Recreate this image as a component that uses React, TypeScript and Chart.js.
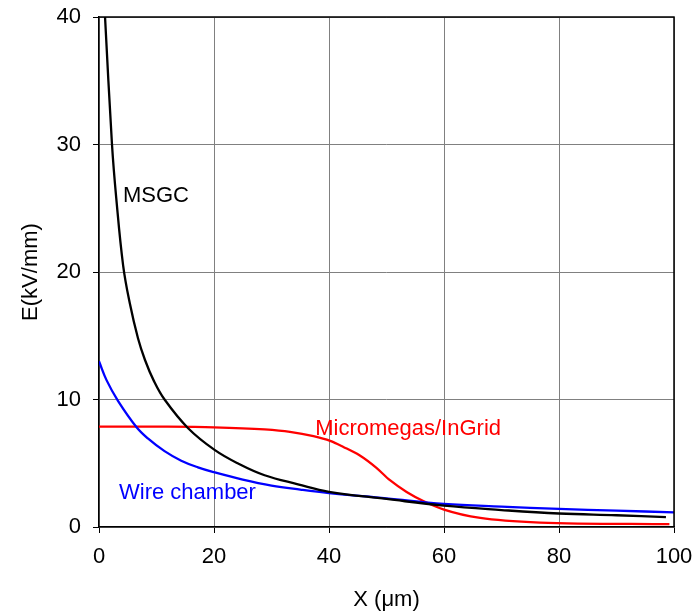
import React, { useEffect, useRef } from "react";
import { Chart, registerables } from "chart.js";

Chart.register(...registerables);

const msgcX = [1.05, 2.26, 3.0, 4.2, 5.33, 6.78, 8.0, 9.5, 11.4, 15.5, 20.1, 24.2, 28.8, 34.6, 40, 50, 60, 70, 80, 90, 98.6];
const msgcE = [40, 30, 25.8, 20.5, 17.6, 14.8, 13.1, 11.5, 10, 7.75, 6.05, 4.98, 4.06, 3.35, 2.76, 2.2, 1.67, 1.33, 1.06, 0.92, 0.78];

const wireX = [0, 1.33, 3.3, 6.5, 8.5, 11.4, 14.3, 17.2, 20, 25, 30, 35, 40, 50, 60, 70, 80, 90, 100];
const wireE = [13.0, 11.5, 9.9, 7.85, 6.95, 5.95, 5.2, 4.68, 4.3, 3.72, 3.25, 2.93, 2.66, 2.25, 1.82, 1.6, 1.42, 1.28, 1.15];

const mmX = [0, 10, 20, 28.8, 33.2, 37.3, 40.2, 42.5, 45.3, 48.2, 50.6, 53.5, 56.4, 60, 66.3, 76.7, 99.2];
const mmE = [7.88, 7.87, 7.82, 7.65, 7.46, 7.12, 6.75, 6.28, 5.63, 4.66, 3.67, 2.75, 2.04, 1.37, 0.71, 0.35, 0.22];

const xTicks = [0, 20, 40, 60, 80, 100];
const yTicks = [0, 10, 20, 30, 40];

const labelTexts = ["MSGC", "Micromegas/InGrid", "Wire chamber"];
const labelColors = ["#000000", "#ff0000", "#0000ff"];
const labelAnchorX = [4.17, 37.6, 3.48];
const labelAnchorE = [25.5, 7.25, 2.23];

const FONT = '"Liberation Sans", Arial, sans-serif';

function toPoints(xs: number[], ys: number[]) {
  return xs.map((x, i) => ({ x, y: ys[i] }));
}

const labelPlugin = {
  id: "curveLabels",
  afterDatasetsDraw(chart: any) {
    const { ctx, scales, chartArea } = chart;
    ctx.save();
    ctx.strokeStyle = "#000";
    ctx.lineWidth = 1.5;
    ctx.beginPath();
    ctx.moveTo(chartArea.left, chartArea.top);
    ctx.lineTo(chartArea.right, chartArea.top);
    ctx.lineTo(chartArea.right, chartArea.bottom);
    ctx.stroke();
    ctx.font = `22px ${FONT}`;
    ctx.textAlign = "left";
    ctx.textBaseline = "alphabetic";
    labelTexts.forEach((t, i) => {
      ctx.fillStyle = labelColors[i];
      ctx.fillText(t, scales.x.getPixelForValue(labelAnchorX[i]), scales.y.getPixelForValue(labelAnchorE[i]));
    });
    ctx.restore();
  },
};

export default function App() {
  const ref = useRef<HTMLCanvasElement>(null);
  useEffect(() => {
    document.body.style.margin = "0";
    const chart = new Chart(ref.current as HTMLCanvasElement, {
      type: "line",
      data: {
        datasets: [
          {
            label: "MSGC",
            data: toPoints(msgcX, msgcE),
            borderColor: "#000000",
            borderWidth: 2.3,
            pointRadius: 0,
            tension: 0.4,
          },
          {
            label: "Wire chamber",
            data: toPoints(wireX, wireE),
            borderColor: "#0000ff",
            borderWidth: 2.3,
            pointRadius: 0,
            tension: 0.4,
          },
          {
            label: "Micromegas/InGrid",
            data: toPoints(mmX, mmE),
            borderColor: "#ff0000",
            borderWidth: 2.3,
            pointRadius: 0,
            cubicInterpolationMode: "monotone",
          },
        ],
      },
      options: {
        animation: false,
        responsive: false,
        layout: { padding: { left: 0, right: 23, top: 17, bottom: 0 } },
        plugins: { legend: { display: false }, tooltip: { enabled: false } },
        scales: {
          x: {
            type: "linear",
            min: 0,
            max: 100,
            afterFit: (s: any) => { s.height = 86; s.paddingLeft = 0; s.paddingRight = 0; },
            afterBuildTicks: (s: any) => { s.ticks = xTicks.map((v) => ({ value: v })); },
            grid: { color: "#808080", lineWidth: 1, tickColor: "#000", tickLength: 6 },
            border: { color: "#000", width: 1.5 },
            ticks: { color: "#000", font: { family: FONT, size: 22 }, padding: 11, maxRotation: 0 },
            title: { display: true, text: "X (\u03bcm)", color: "#000", font: { family: FONT, size: 22 }, padding: { top: 0, bottom: 0 } },
          },
          y: {
            type: "linear",
            min: 0,
            max: 40,
            afterFit: (s: any) => { s.width = 99; s.paddingTop = 0; s.paddingBottom = 0; },
            afterBuildTicks: (s: any) => { s.ticks = yTicks.map((v) => ({ value: v })); },
            grid: { color: "#808080", lineWidth: 1, tickColor: "#000", tickLength: 6 },
            border: { color: "#000", width: 1.5 },
            ticks: { color: "#000", font: { family: FONT, size: 22 }, padding: 12 },
            title: { display: true, text: "E(kV/mm)", color: "#000", font: { family: FONT, size: 22 }, padding: { top: 18, bottom: 0 } },
          },
        },
      },
      plugins: [labelPlugin],
    });
    return () => chart.destroy();
  }, []);
  return (
    <div style={{ width: 697, height: 613 }}>
      <canvas ref={ref} width={697} height={613} style={{ display: "block" }} />
    </div>
  );
}
